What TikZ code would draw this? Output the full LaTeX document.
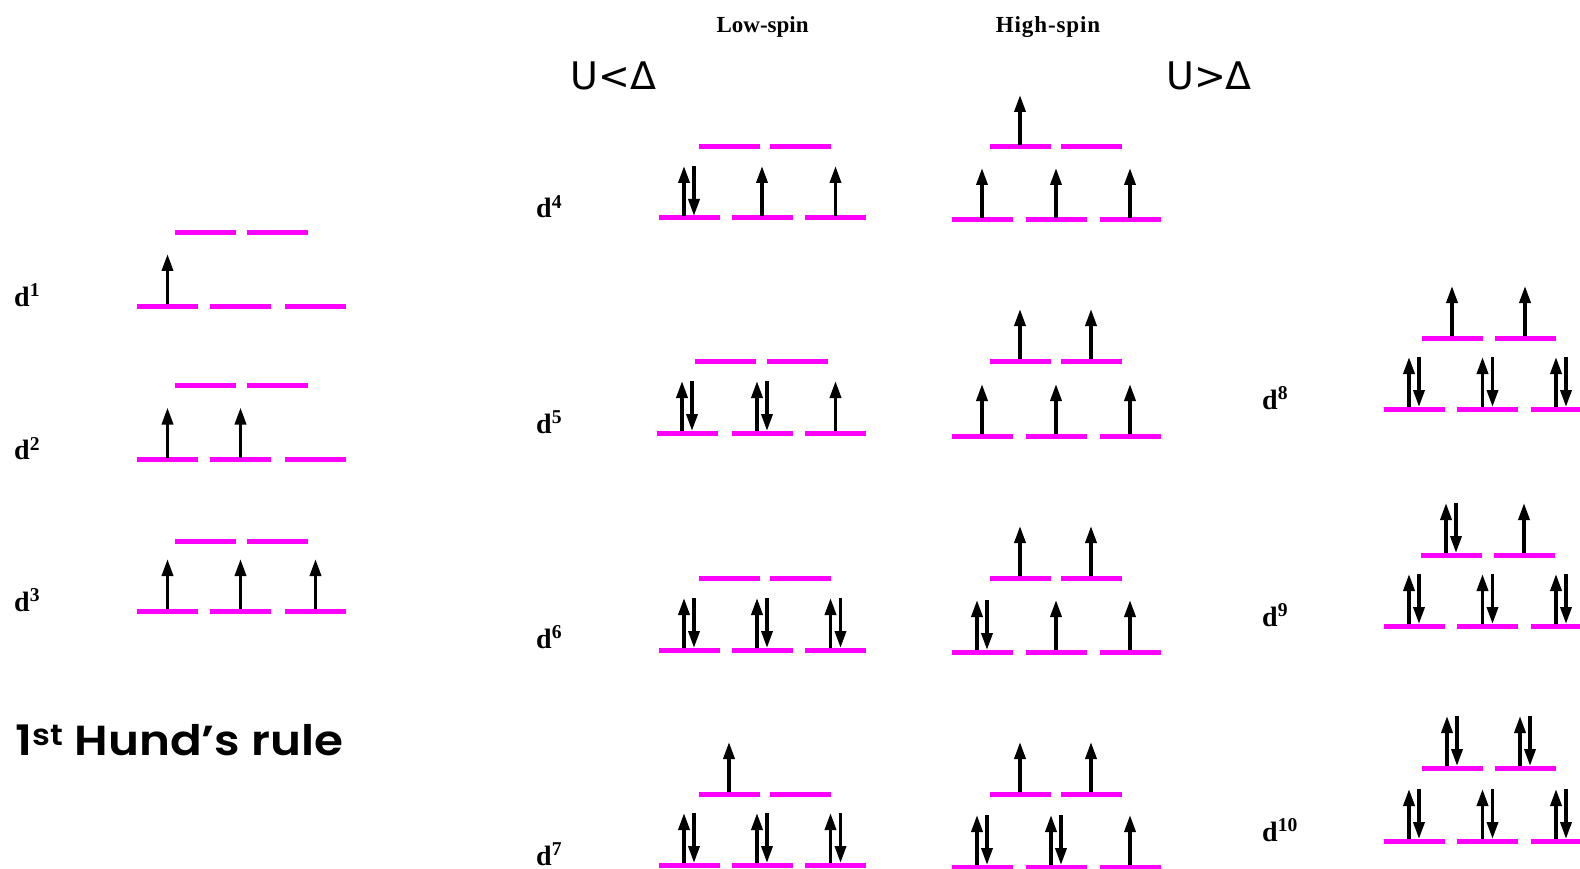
\documentclass[tikz,border=0pt]{standalone}
\usepackage{fontspec}
\usepackage{graphicx}
\usetikzlibrary{arrows.meta}
\newfontfamily\labelfont{Liberation Serif}
\newfontfamily\relfont{DejaVu Sans}
\newfontfamily\rulefont{Poppins SemiBold}
\definecolor{orbital}{RGB}{255,0,255}

\tikzset{
  level/.style={draw=orbital, line width=5pt},
  spin/.style={line width=3.5pt, -{Triangle[width=11pt,length=17pt]}},
  config/.style={font=\labelfont\bfseries\fontsize{28}{30}\selectfont, anchor=base west, inner sep=0pt},
  header/.style={font=\labelfont\bfseries\fontsize{23}{25}\selectfont, inner sep=0pt},
  relation/.style={font=\relfont\fontsize{38}{40}\selectfont, inner sep=0pt},
}

% one orbital level centred at #1, height #2, holding #3 electrons (0, 1 or 2)
\newcommand\orb[3]{%
  \draw[level] ({#1-30.5},#2) -- ({#1+30.5},#2);
  \ifcase#3\or
    \draw[spin] (#1,{#2-2}) -- ++(0,-50);
  \or
    \draw[spin] ({#1-5},{#2-2}) -- ++(0,-50);
    \draw[spin] ({#1+5},{#2-52}) -- ++(0,50);
  \fi}

\begin{document}
\begin{tikzpicture}[x=1pt, y=-1pt]
\clip (0,0) rectangle (1580,869);
\fill[white] (0,0) rectangle (1580,869);

% ---------- headers ----------
\node[header] (lowspin) at (762.6,27) {Low-spin};
\node[header] (highspin) at (1048,27) {\addfontfeature{LetterSpace=4}High-spin};
\node[relation] (uless) at (613.6,75.6) {U<Δ};
\node[relation] (umore) at (1209,75.6) {U>Δ};

% ---------- d1 - d3 ----------
\node[config] (d1) at (14,306) {d\textsuperscript{1}};
\orb{205}{233}{0} \orb{277}{233}{0}
\orb{167.5}{306}{1} \orb{240.5}{306}{0} \orb{315.5}{306}{0}

\node[config] (d2) at (14,459.5) {d\textsuperscript{2}};
\orb{205}{385}{0} \orb{277}{385}{0}
\orb{167.5}{459.5}{1} \orb{240.5}{459.5}{1} \orb{315.5}{459.5}{0}

\node[config] (d3) at (14,611) {d\textsuperscript{3}};
\orb{205}{541}{0} \orb{277}{541}{0}
\orb{167.5}{611}{1} \orb{240.5}{611}{1} \orb{315.5}{611}{1}

\node[anchor=base west, inner sep=0pt] (hund) at (15,755)
  {\resizebox{328pt}{\height}{\rulefont\fontsize{42}{44}\selectfont 1\textsuperscript{st} Hund’s rule}};

% ---------- d4 - d7, low spin ----------
\node[config] (d4) at (536,218) {d\textsuperscript{4}};
\orb{729}{147}{0} \orb{800}{147}{0}
\orb{689}{218}{2} \orb{762}{218}{1} \orb{835.5}{218}{1}

\node[config] (d5) at (536,433) {d\textsuperscript{5}};
\orb{725.5}{361}{0} \orb{797}{361}{0}
\orb{687}{433}{2} \orb{762}{433}{2} \orb{835.5}{433}{1}

\node[config] (d6) at (536,648) {d\textsuperscript{6}};
\orb{729}{578}{0} \orb{800}{578}{0}
\orb{689}{650}{2} \orb{762}{650}{2} \orb{835.5}{650}{2}

\node[config] (d7) at (536,865) {d\textsuperscript{7}};
\orb{729}{794}{1} \orb{800}{794}{0}
\orb{689}{865}{2} \orb{762}{865}{2} \orb{835.5}{865}{2}

% ---------- d4 - d7, high spin ----------
\orb{1020}{147}{1} \orb{1091}{147}{0}
\orb{982}{220}{1} \orb{1056}{220}{1} \orb{1130}{220}{1}

\orb{1020}{361}{1} \orb{1091}{361}{1}
\orb{982}{436}{1} \orb{1056}{436}{1} \orb{1130}{436}{1}

\orb{1020}{578}{1} \orb{1091}{578}{1}
\orb{982}{652}{2} \orb{1056}{652}{1} \orb{1130}{652}{1}

\orb{1020}{794}{1} \orb{1091}{794}{1}
\orb{982}{867}{2} \orb{1056}{867}{2} \orb{1130}{867}{1}

% ---------- d8 - d10 ----------
\node[config] (d8) at (1262,409) {d\textsuperscript{8}};
\orb{1452}{338}{1} \orb{1525}{338}{1}
\orb{1414}{409}{2} \orb{1487.5}{409}{2} \orb{1561}{409}{2}

\node[config] (d9) at (1262,626) {d\textsuperscript{9}};
\orb{1451}{555}{2} \orb{1524}{555}{1}
\orb{1414}{626}{2} \orb{1487.5}{626}{2} \orb{1561}{626}{2}

\node[config] (d10) at (1262,841) {d\textsuperscript{10}};
\orb{1452}{768}{2} \orb{1525}{768}{2}
\orb{1414}{841}{2} \orb{1487.5}{841}{2} \orb{1561}{841}{2}
\end{tikzpicture}
\end{document}
